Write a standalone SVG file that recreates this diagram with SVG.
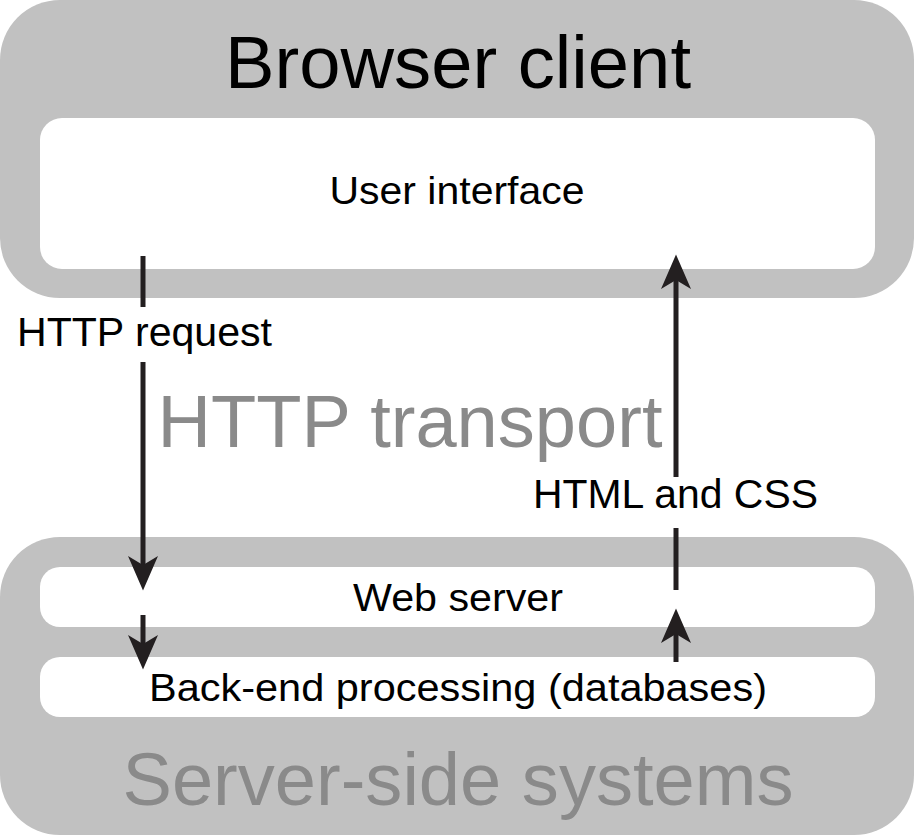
<svg xmlns="http://www.w3.org/2000/svg" width="915" height="837" viewBox="0 0 915 837">
<style>
.panel{fill:#c1c1c1}
.box{fill:#ffffff}
.t{font-family:"Liberation Sans",Arial,sans-serif;fill:#000;text-anchor:middle}
.big{font-family:"Liberation Sans",Arial,sans-serif;fill:#8a8a8a;text-anchor:middle}
.ln{stroke:#231f20;stroke-width:5;fill:none}
.arr{stroke:#231f20;stroke-width:5;fill:none;marker-end:url(#ah)}
</style>
<defs>
<marker id="ah" markerUnits="userSpaceOnUse" markerWidth="40" markerHeight="40" viewBox="-2 -16 36 32" refX="8" refY="0" orient="auto">
<path d="M0,-13.5 L31,0 L0,13.5 L8,0 Z" fill="#231f20"/>
</marker>
</defs>
<g id="browser-client">
<rect class="panel" x="0" y="0" width="914" height="298" rx="60" ry="60"/>
<text class="t" x="458" y="88" font-size="75" textLength="466" lengthAdjust="spacingAndGlyphs">Browser client</text>
</g>
<g id="user-interface">
<rect class="box" x="40" y="118" width="835" height="151" rx="22" ry="22"/>
<text class="t" x="457" y="204" font-size="39" textLength="255" lengthAdjust="spacingAndGlyphs">User interface</text>
</g>
<g id="server-side">
<rect class="panel" x="0" y="537" width="914" height="298" rx="60" ry="60"/>
<text class="big" x="458" y="805" font-size="74" textLength="671" lengthAdjust="spacingAndGlyphs">Server-side systems</text>
</g>
<g id="web-server">
<rect class="box" x="40" y="567" width="835" height="60" rx="20" ry="20"/>
<text class="t" x="458" y="611" font-size="38" textLength="210" lengthAdjust="spacingAndGlyphs">Web server</text>
</g>
<g id="back-end">
<rect class="box" x="40" y="657" width="835" height="60" rx="20" ry="20"/>
<text class="t" x="458" y="701" font-size="38" textLength="618" lengthAdjust="spacingAndGlyphs">Back-end processing (databases)</text>
</g>
<g id="transport">
<text class="big" x="410" y="447" font-size="74" textLength="505" lengthAdjust="spacingAndGlyphs">HTTP transport</text>
</g>
<g id="connectors">
<line class="ln" x1="143" y1="256" x2="143" y2="307"/>
<line class="arr" x1="143" y1="362" x2="143" y2="565"/>
<line class="arr" x1="143" y1="615" x2="143" y2="644"/>
<line class="arr" x1="676" y1="477" x2="676" y2="280"/>
<line class="ln" x1="676" y1="528" x2="676" y2="590"/>
<line class="arr" x1="676" y1="662" x2="676" y2="634"/>
<text class="t" x="17" y="346" font-size="40" style="text-anchor:start" textLength="255" lengthAdjust="spacingAndGlyphs">HTTP request</text>
<text class="t" x="533" y="508" font-size="40" style="text-anchor:start" textLength="285" lengthAdjust="spacingAndGlyphs">HTML and CSS</text>
</g>
</svg>
